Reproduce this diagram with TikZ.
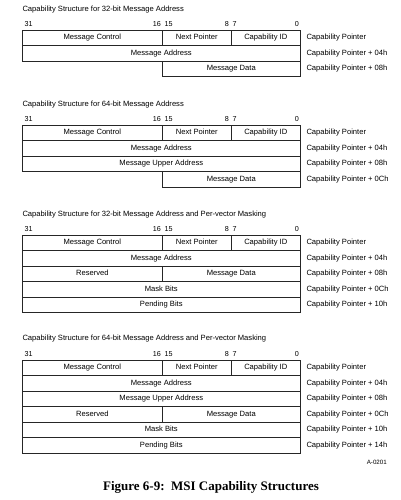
\documentclass[tikz,border=0pt]{standalone}
\usepackage{fontspec}
\setmainfont{Liberation Sans}
\newfontfamily\capfont{Liberation Serif}
\usetikzlibrary{positioning}

\tikzset{
  field/.style={draw=black!85, line width=0.6pt, rectangle, inner sep=0pt, outer sep=0pt,
    minimum height=15.5pt, text height=5.5pt, text depth=1.6pt, anchor=north west,
    font=\fontsize{7.6}{9}\selectfont},
  full/.style={field, minimum width=278pt},
  half/.style={field, minimum width=140pt},
  halfr/.style={field, minimum width=138pt},
  byte/.style={field, minimum width=69pt},
  ptr/.style={inner sep=0pt, text height=5.5pt, text depth=1.6pt, font=\fontsize{7.6}{9}\selectfont},
  bitno/.style={inner sep=0pt, font=\fontsize{7.2}{9}\selectfont},
  title/.style={anchor=west, inner sep=0pt, text height=5.5pt, text depth=1.6pt, font=\fontsize{7.6}{9}\selectfont},
}

\begin{document}
\begin{tikzpicture}[x=1pt,y=-1pt]
  \fill [white] (0,0) rectangle (400,500);
  \useasboundingbox (0,0) rectangle (400,500);

  % 32-bit message address
  \node [title] (t1) at (22.3,9.8) {Capability Structure for 32-bit Message Address};
  \node [bitno, anchor=west] (b1x31) at (24.5,24.3) {31};
  \node [bitno, anchor=east] (b1x16) at (161,24.3) {16};
  \node [bitno, anchor=west] (b1x15) at (164.5,24.3) {15};
  \node [bitno, anchor=east] (b1x8) at (229,24.3) {8};
  \node [bitno, anchor=west] (b1x7) at (232.5,24.3) {7};
  \node [bitno, anchor=east] (b1x0) at (299,24.3) {0};
  \node [half] (mc1) at (22.3,30.3) {Message Control};
  \node [byte] (np1) at (mc1.north east) {Next Pointer};
  \node [byte] (cid1) at (np1.north east) {Capability ID};
  \node [full] (ma1) at (mc1.south west) {Message Address};
  \node [halfr] (md1) at (np1.west |- ma1.south) {Message Data};
  \node [ptr, right=6pt of cid1] (p1a) {Capability Pointer};
  \node [ptr, right=6pt of ma1] (p1b) {Capability Pointer + 04h};
  \node [ptr, right=6pt of md1] (p1c) {Capability Pointer + 08h};

  % 64-bit message address
  \node [title] (t2) at (22.3,104.8) {Capability Structure for 64-bit Message Address};
  \node [bitno, anchor=west] (b2x31) at (24.5,119) {31};
  \node [bitno, anchor=east] (b2x16) at (161,119) {16};
  \node [bitno, anchor=west] (b2x15) at (164.5,119) {15};
  \node [bitno, anchor=east] (b2x8) at (229,119) {8};
  \node [bitno, anchor=west] (b2x7) at (232.5,119) {7};
  \node [bitno, anchor=east] (b2x0) at (299,119) {0};
  \node [half] (mc2) at (22.3,125) {Message Control};
  \node [byte] (np2) at (mc2.north east) {Next Pointer};
  \node [byte] (cid2) at (np2.north east) {Capability ID};
  \node [full] (ma2) at (mc2.south west) {Message Address};
  \node [full] (mu2) at (ma2.south west) {Message Upper Address};
  \node [halfr] (md2) at (np2.west |- mu2.south) {Message Data};
  \node [ptr, right=6pt of cid2] (p2a) {Capability Pointer};
  \node [ptr, right=6pt of ma2] (p2b) {Capability Pointer + 04h};
  \node [ptr, right=6pt of mu2] (p2c) {Capability Pointer + 08h};
  \node [ptr, right=6pt of md2] (p2d) {Capability Pointer + 0Ch};

  % 32-bit message address, per-vector masking
  \node [title] (t3) at (22.3,214.8) {Capability Structure for 32-bit Message Address and Per-vector Masking};
  \node [bitno, anchor=west] (b3x31) at (24.5,229) {31};
  \node [bitno, anchor=east] (b3x16) at (161,229) {16};
  \node [bitno, anchor=west] (b3x15) at (164.5,229) {15};
  \node [bitno, anchor=east] (b3x8) at (229,229) {8};
  \node [bitno, anchor=west] (b3x7) at (232.5,229) {7};
  \node [bitno, anchor=east] (b3x0) at (299,229) {0};
  \node [half] (mc3) at (22.3,235) {Message Control};
  \node [byte] (np3) at (mc3.north east) {Next Pointer};
  \node [byte] (cid3) at (np3.north east) {Capability ID};
  \node [full] (ma3) at (mc3.south west) {Message Address};
  \node [half] (rs3) at (ma3.south west) {Reserved};
  \node [halfr] (md3) at (rs3.north east) {Message Data};
  \node [full] (mb3) at (rs3.south west) {Mask Bits};
  \node [full] (pb3) at (mb3.south west) {Pending Bits};
  \node [ptr, right=6pt of cid3] (p3a) {Capability Pointer};
  \node [ptr, right=6pt of ma3] (p3b) {Capability Pointer + 04h};
  \node [ptr, right=6pt of md3] (p3c) {Capability Pointer + 08h};
  \node [ptr, right=6pt of mb3] (p3d) {Capability Pointer + 0Ch};
  \node [ptr, right=6pt of pb3] (p3e) {Capability Pointer + 10h};

  % 64-bit message address, per-vector masking
  \node [title] (t4) at (22.3,338.8) {Capability Structure for 64-bit Message Address and Per-vector Masking};
  \node [bitno, anchor=west] (b4x31) at (24.5,354) {31};
  \node [bitno, anchor=east] (b4x16) at (161,354) {16};
  \node [bitno, anchor=west] (b4x15) at (164.5,354) {15};
  \node [bitno, anchor=east] (b4x8) at (229,354) {8};
  \node [bitno, anchor=west] (b4x7) at (232.5,354) {7};
  \node [bitno, anchor=east] (b4x0) at (299,354) {0};
  \node [half] (mc4) at (22.3,360) {Message Control};
  \node [byte] (np4) at (mc4.north east) {Next Pointer};
  \node [byte] (cid4) at (np4.north east) {Capability ID};
  \node [full] (ma4) at (mc4.south west) {Message Address};
  \node [full] (mu4) at (ma4.south west) {Message Upper Address};
  \node [half] (rs4) at (mu4.south west) {Reserved};
  \node [halfr] (md4) at (rs4.north east) {Message Data};
  \node [full] (mb4) at (rs4.south west) {Mask Bits};
  \node [full] (pb4) at (mb4.south west) {Pending Bits};
  \node [ptr, right=6pt of cid4] (p4a) {Capability Pointer};
  \node [ptr, right=6pt of ma4] (p4b) {Capability Pointer + 04h};
  \node [ptr, right=6pt of mu4] (p4c) {Capability Pointer + 08h};
  \node [ptr, right=6pt of md4] (p4d) {Capability Pointer + 0Ch};
  \node [ptr, right=6pt of mb4] (p4e) {Capability Pointer + 10h};
  \node [ptr, right=6pt of pb4] (p4f) {Capability Pointer + 14h};

  \node [inner sep=0pt, anchor=east, font=\fontsize{6.2}{7}\selectfont] (fig) at (387,462) {A-0201};
  \node [inner sep=0pt, anchor=base, font=\capfont\bfseries\fontsize{13}{15}\selectfont] (cap) at (211,490.7) {Figure 6-9:\ \ MSI Capability Structures};
\end{tikzpicture}
\end{document}
